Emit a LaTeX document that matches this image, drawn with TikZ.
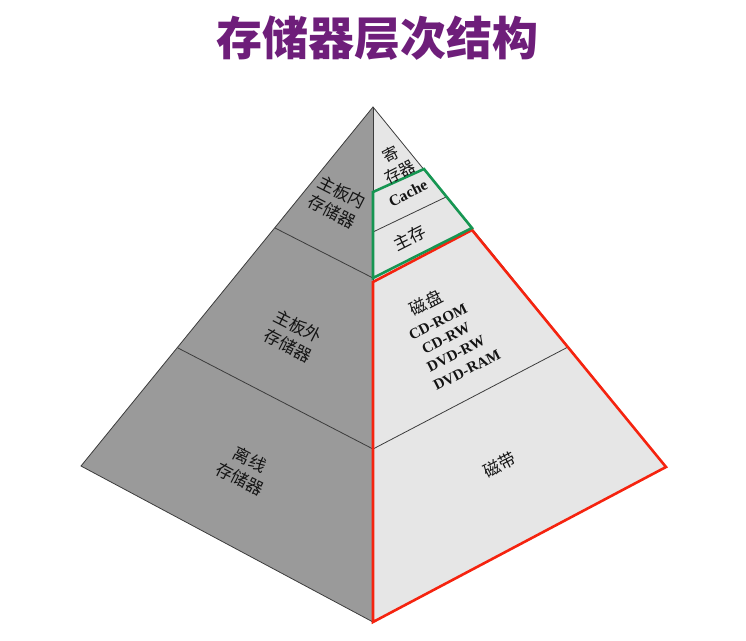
\documentclass[tikz,border=0pt]{standalone}
\usepackage{fontspec}
\newfontfamily\cjk{Noto Sans CJK SC}
\newfontfamily\lat{Liberation Serif}
\definecolor{titlepurple}{RGB}{110,30,122}
\definecolor{leftface}{RGB}{154,154,154}
\definecolor{rightface}{RGB}{230,230,230}
\definecolor{edgegray}{RGB}{60,60,60}
\definecolor{boxgreen}{RGB}{22,150,82}
\definecolor{boxred}{RGB}{245,35,15}
\definecolor{txt}{RGB}{20,20,20}
\begin{document}
\begin{tikzpicture}[x=1pt,y=1pt,
  sep/.style={draw=edgegray,line width=0.8pt},
  lefttext/.style={text=txt,font=\cjk\fontsize{17}{22}\selectfont,align=center,inner sep=0pt,rotate=-27},
  righttext/.style={text=txt,font=\cjk\fontsize{17}{22}\selectfont,align=center,inner sep=0pt,rotate=27},
  latbold/.style={text=txt,font=\lat\bfseries\fontsize{15}{17}\selectfont,inner sep=0pt,rotate=27},
  hilite/.style={line width=2.6pt,line join=miter}]
\useasboundingbox (0,0) rectangle (746,-640);
% key points
\coordinate (apex) at (373,-107);
\coordinate (L) at (81,-466);
\coordinate (R) at (666,-467);
\coordinate (B) at (373,-622);
\coordinate (l1) at (275,-228);
\coordinate (c1) at (373,-278);
\coordinate (l2) at (178,-348);
\coordinate (c2) at (373,-449);
\coordinate (r0) at (424,-169);
\coordinate (c0) at (373,-192);
\coordinate (rc) at (446,-197);
\coordinate (cc) at (373,-232);
\coordinate (r1) at (472,-228);
\coordinate (r2) at (568,-347);
\coordinate (redtl) at (373,-282);
\coordinate (redtr) at (472,-230);
% faces
\fill[leftface] (apex) -- (L) -- (B) -- cycle;
\fill[rightface] (apex) -- (R) -- (B) -- cycle;
\draw[sep] (apex) -- (L) -- (B) -- (R) -- cycle;
\draw[sep] (apex) -- (B);
% separators
\draw[sep] (l1) -- (c1);
\draw[sep] (l2) -- (c2) -- (r2);
\draw[sep] (cc) -- (rc);
% highlighted groups
\draw[hilite,draw=boxred] (redtl) -- (redtr) -- (R) -- (B) -- cycle;
\draw[hilite,draw=boxgreen] (c0) -- (r0) -- (r1) -- (c1) -- cycle;
% title
\node[text=titlepurple,font=\cjk\bfseries\fontsize{46}{50}\selectfont] (title) at (377,-38) {存储器层次结构};
% left labels
\node[lefttext] (inboard) at (337,-202) {主板内\\存储器};
\node[lefttext] (outboard) at (293,-336) {主板外\\存储器};
\node[lefttext] (offline) at (245,-469) {离线\\存储器};
% right labels
\node[righttext,font=\cjk\fontsize{16}{20}\selectfont] (reg) at (395,-163) {寄\\存器};
\node[latbold,font=\lat\bfseries\fontsize{15.5}{17}\selectfont] (cache) at (408,-193) {Cache};
\node[righttext] (mainmem) at (410,-238) {主存};
\node[righttext] (disk) at (426,-303) {磁盘};
\node[latbold] (cdrom) at (438,-322) {CD-ROM};
\node[latbold] (cdrw) at (446,-338) {CD-RW};
\node[latbold] (dvdrw) at (456,-354) {DVD-RW};
\node[latbold] (dvdram) at (467,-370) {DVD-RAM};
\node[righttext] (tape) at (500,-465) {磁带};
\end{tikzpicture}
\end{document}
